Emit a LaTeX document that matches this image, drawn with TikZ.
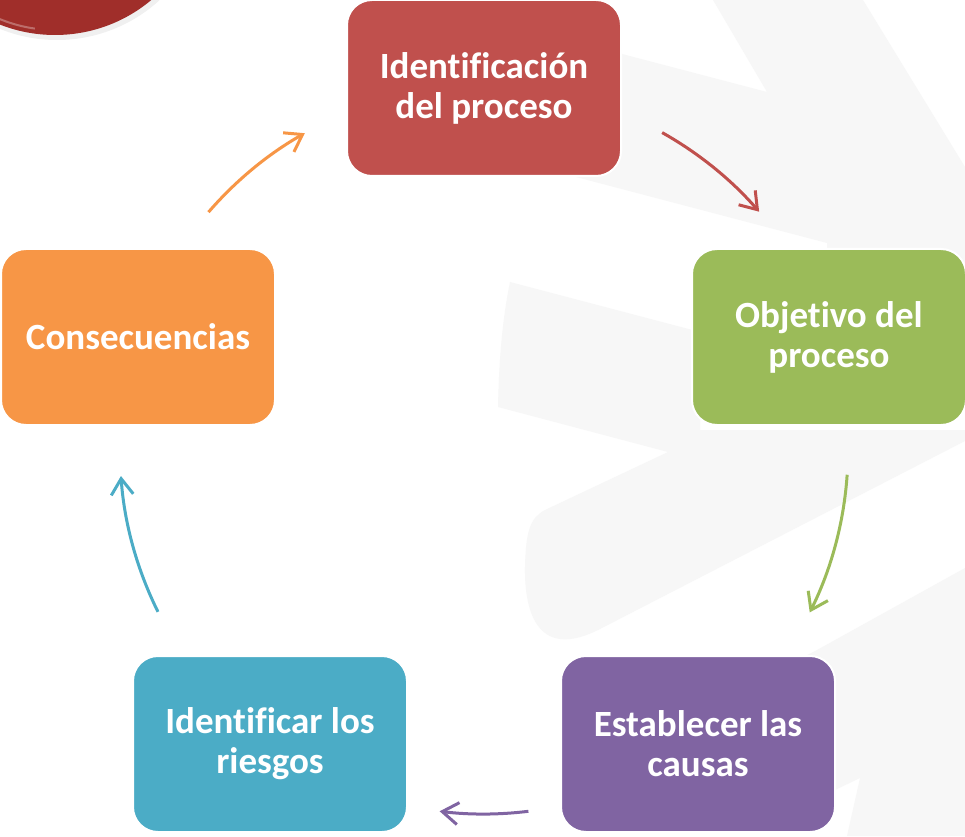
\documentclass[tikz,border=0pt]{standalone}
\usepackage{fontspec}
\setmainfont{Carlito}[Ligatures=NoCommon, RawFeature={-liga;-clig}]
\usetikzlibrary{arrows.meta,calc}
\definecolor{cred}{RGB}{192,80,77}
\definecolor{cgreen}{RGB}{155,187,89}
\definecolor{cpurple}{RGB}{128,100,162}
\definecolor{cblue}{RGB}{75,172,198}
\definecolor{corange}{RGB}{247,150,70}
\definecolor{wm}{RGB}{247,247,247}
\definecolor{ball}{RGB}{160,46,42}
\begin{document}
\begin{tikzpicture}[x=1pt,y=1pt,
  box/.style={rounded corners=25pt, minimum width=274pt, minimum height=176pt,
    draw=white, line width=2pt, text=white, align=center, inner sep=0pt,
    font=\fontsize{37}{40}\selectfont\bfseries},
  arr/.style={line width=3pt, -{Straight Barb[length=16pt,width=22pt]}}]
\clip (0,0) rectangle (965,836);
\fill[white] (0,0) rectangle (965,836);
% watermark
\fill[wm] (500,814) -- (767,744) -- (713,836) -- (863,836) -- (965,669) -- (965,536)
  -- (827,536) -- (827,593) -- (500,679) -- cycle;
\fill[wm] (510,554) -- (700,504) -- (700,406) -- (965,406) -- (965,395) -- (600,207)
  .. controls (540,176) and (524,220) .. (525,270)
  .. controls (526,305) and (530,318) .. (545,326) -- (668,384) -- (498,429)
  .. controls (499,480) and (503,520) .. (510,554) -- cycle;
\fill[wm] (965,268) -- (817,186) -- (790,172) -- (790,40) -- (835,46) -- (860,58) -- (847,0)
  -- (965,0) -- cycle;
% ball
\fill[black, opacity=.06] (57,948) circle (152);
\fill[ball] (55,951) circle (150);
\draw[white, line width=2pt, opacity=.3] (55,951) ++(246:145) arc[start angle=246, end angle=262, radius=145];
% boxes
\node[box, fill=cred]    (idp) at (484,748) {Identificación\\del proceso};
\node[box, fill=cgreen]  (obj) at (829,499) {Objetivo del\\proceso};
\node[box, fill=cpurple] (est) at (698,92)  {Establecer las\\causas};
\node[box, fill=cblue]   (rie) at (270,92)  {Identificar los\\riesgos};
\node[box, fill=corange] (con) at (138,499) {Consecuencias};
% arrows (arcs of one circle)
\coordinate (O) at (484,386);
\coordinate (s1) at ($(O)+(139.2:364)$);
\coordinate (s2) at ($(O)+(60.7:364)$);
\coordinate (s3) at ($(O)+(-3.9:364)$);
\coordinate (s4) at ($(O)+(-83:364)$);
\coordinate (s5) at ($(O)+(206.4:364)$);
\draw[arr, corange] (s1) arc[start angle=139.2, end angle=119.5, radius=364];
\draw[arr, cred]    (s2) arc[start angle=60.7, end angle=40.9, radius=364];
\draw[arr, cgreen]  (s3) arc[start angle=-3.9, end angle=-26.5, radius=364];
\draw[arr, cpurple] (s4) arc[start angle=-83, end angle=-97, radius=364];
\draw[arr, cblue]   (s5) arc[start angle=206.4, end angle=184.1, radius=364];
\end{tikzpicture}
\end{document}
